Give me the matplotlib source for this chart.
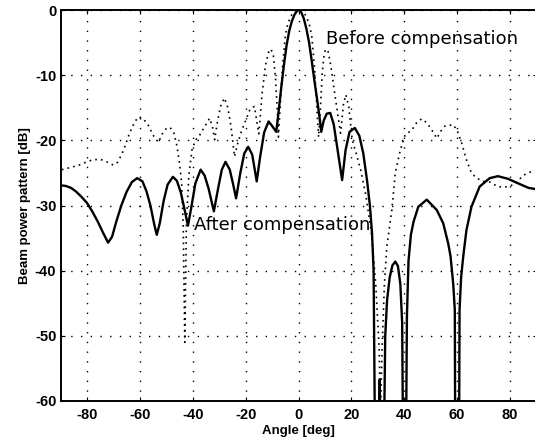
import matplotlib
matplotlib.use("Agg")
import matplotlib.pyplot as plt

# === 补偿后 (solid) ===
after_angle = [-90, -88, -86, -84, -82, -80, -78, -76, -74, -72, -70.5, -69, -67, -65, -63, -61,
               -59, -57.5, -56, -54.5, -53.6, -52.5, -51, -49.5, -47.5, -46, -44.5, -43, -41.8,
               -40.5, -39, -37, -35.5, -34, -32, -30.5, -29, -27.6, -26, -24.8, -23.6, -22, -20.5,
               -19, -17.5, -15.8, -14.5, -13, -11.3, -9.8, -8.4, -7.5, -6.5, -5.5, -4.5, -3.5,
               -2.5, -1.5, -0.5, 0.2, 1, 2, 3, 4, 5, 6, 7, 8, 8.6, 9.5, 10.7, 12, 13.3, 14.8,
               16.5, 17.8, 19.3, 21.3, 23, 24.5, 25.9, 27, 27.8, 28.4, 29.0, 30.2, 30.7, 31.2,
               32.2, 32.8, 33.5, 34.5, 35.5, 36.6, 37.6, 38.5, 39.2, 39.6, 40.6, 41.0, 41.6, 42.5,
               43.5, 45.3, 48.5, 52.3, 54.7, 56.6, 57.5, 58.5, 59.1, 59.3, 60.7, 60.9, 61.5, 62.3,
               63.5, 65.4, 68.5, 72.3, 75.4, 79.2, 83.6, 87, 90]
after_db = [-26.9, -27.0, -27.3, -27.9, -28.7, -29.6, -30.9, -32.4, -34.1, -35.7, -34.8, -32.6,
            -30.0, -27.9, -26.4, -25.8, -26.3, -27.8, -30.0, -33.0, -34.5, -32.8, -29.3, -26.8,
            -25.6, -26.2, -28.0, -30.8, -33.1, -30.2, -26.6, -24.5, -25.4, -27.4, -30.9, -27.6,
            -24.5, -23.3, -24.5, -26.6, -28.9, -25.0, -22.0, -21.0, -22.2, -26.3, -22.5, -18.8,
            -17.1, -17.9, -18.7, -15.5, -11.8, -8.4, -5.4, -3.2, -1.7, -0.7, -0.1, 0.0, -0.3,
            -1.3, -2.9, -5.0, -7.8, -10.8, -13.6, -16.6, -18.7, -17.0, -15.9, -15.8, -17.5,
            -21.5, -26.1, -21.5, -18.7, -18.1, -19.3, -22.0, -26.1, -30.0, -34.2, -40.0, -70,
            -70, -56.7, -70, -70, -50.0, -44.5, -41.0, -39.2, -38.6, -39.3, -42.0, -48.0, -70,
            -70, -47.0, -38.5, -34.5, -32.5, -30.2, -29.1, -30.7, -32.7, -35.8, -37.8, -42.0,
            -46.0, -70, -70, -46.0, -41.0, -37.8, -33.8, -30.2, -27.1, -25.8, -25.5, -25.9,
            -26.7, -27.3, -27.5]

# === 补偿前 (dotted) ===
before_angle = [-89.5, -86.5, -83, -80, -78, -75, -72.5, -70, -68.5, -67, -65.5, -64, -62, -60.5,
                -59, -57, -55, -53, -51.5, -50, -48.6, -47.2, -46, -45, -44.2, -43.6, -43.0,
                -42.4, -41.5, -40.3, -39, -37.5, -35.5, -33.6, -32.5, -31.7, -30.8, -29.5, -28,
                -26.7, -25.5, -24.2, -23, -21.5, -20, -18.3, -16.7, -15.0, -13.8, -12.5, -11.2,
                -10.4, -9.5, -8.7, -8.0, -7.6, -6.8, -6.0, -5.0, -4.0, -2.5, -1.0, 0.0, 1.0, 2.5,
                4.0, 5.0, 6.0, 6.8, 7.6, 8.3, 9.0, 9.7, 10.3, 11.2, 12.2, 13.4, 14.6, 15.9, 17.0,
                17.9, 19.0, 20.3, 21.8, 23.5, 25.5, 27.5, 29.2, 30.5, 31.0, 31.6, 32.5, 33.4,
                35.3, 36.6, 38.5, 40.3, 42.9, 44.8, 46.6, 48.5, 50.4, 52.3, 53.8, 55.4, 58.5,
                60.0, 61.7, 63.5, 65.4, 67.3, 70.0, 72.3, 75.4, 77.9, 80.0, 82.3, 84.8, 88.0, 90.0]
before_db = [-24.5, -24.2, -23.8, -23.3, -23.0, -22.9, -23.3, -23.8, -23.4, -22.3, -20.8, -19.0,
             -17.2, -16.4, -16.6, -17.5, -19.2, -20.3, -19.0, -18.2, -18.0, -18.8, -20.8, -23.5,
             -26.5, -33.0, -51.0, -33.0, -25.5, -21.5, -20.0, -19.3, -17.9, -16.6, -18.0, -19.9,
             -17.5, -14.8, -13.5, -15.0, -17.9, -22.5, -20.5, -18.5, -17.0, -15.2, -14.8, -19.0,
             -13.0, -8.5, -6.3, -6.0, -7.0, -10.5, -15.5, -19.5, -14.0, -8.5, -4.0, -2.0, -0.7,
             -0.1, 0.0, -0.1, -0.7, -2.0, -4.0, -8.5, -14.0, -19.5, -15.0, -9.5, -6.8, -6.0,
             -6.4, -8.5, -12.0, -15.3, -18.9, -14.5, -13.0, -14.8, -19.9, -22.0, -24.5, -28.5,
             -34.0, -42.0, -52.0, -62.0, -52.0, -42.0, -36.3, -30.7, -25.0, -21.5, -19.2, -18.4,
             -17.2, -16.7, -17.3, -18.4, -19.7, -18.6, -17.8, -17.6, -18.5, -20.4, -23.0, -25.0,
             -25.8, -26.3, -26.4, -27.1, -27.2, -27.0, -26.6, -25.4, -24.8, -24.6]

x_ticks = [-80, -60, -40, -20, 0, 20, 40, 60, 80]
y_ticks = [0, -10, -20, -30, -40, -50, -60]

fig = plt.figure(figsize=(5.35, 4.47), dpi=100)
ax = fig.add_axes([60.5 / 535, 46 / 447, 476 / 535, 391 / 447])

ax.plot(before_angle, before_db, color="black", linewidth=1.2, linestyle=(0, (1, 2.5)))
ax.plot(after_angle, after_db, '-', color="black", linewidth=1.7)

ax.set_xlim(-90, 90)
ax.set_ylim(-60, 0)
ax.set_xticks(x_ticks)
ax.set_yticks(y_ticks)
ax.set_xticklabels([f"{v}" for v in x_ticks])
ax.set_yticklabels([f"{v}" for v in y_ticks])
ax.tick_params(direction="in", length=3, width=0.8, top=True, right=True, pad=5)
for lab in ax.get_xticklabels() + ax.get_yticklabels():
    lab.set_fontfamily("Liberation Sans")
    lab.set_fontweight("bold")
    lab.set_fontsize(10.5)
ax.tick_params(axis="y", pad=3)
for s in ax.spines.values():
    s.set_linewidth(1.4)
ax.grid(True, color="black", linewidth=1.0, linestyle=(0, (1, 6)))

ax.set_xlabel("Angle [deg]", fontfamily="Liberation Sans", fontweight="bold", fontsize=9.5, labelpad=2)
ax.set_ylabel("Beam power pattern [dB]", fontfamily="Liberation Sans", fontweight="bold", fontsize=9.5, labelpad=3)

ax.text(10.5, -5.2, "Before compensation", fontfamily="DejaVu Sans", fontsize=13, va="baseline", ha="left")
ax.text(-39.4, -33.7, "After compensation", fontfamily="DejaVu Sans", fontsize=13, va="baseline", ha="left")

fig.savefig("out.png", dpi=100)
